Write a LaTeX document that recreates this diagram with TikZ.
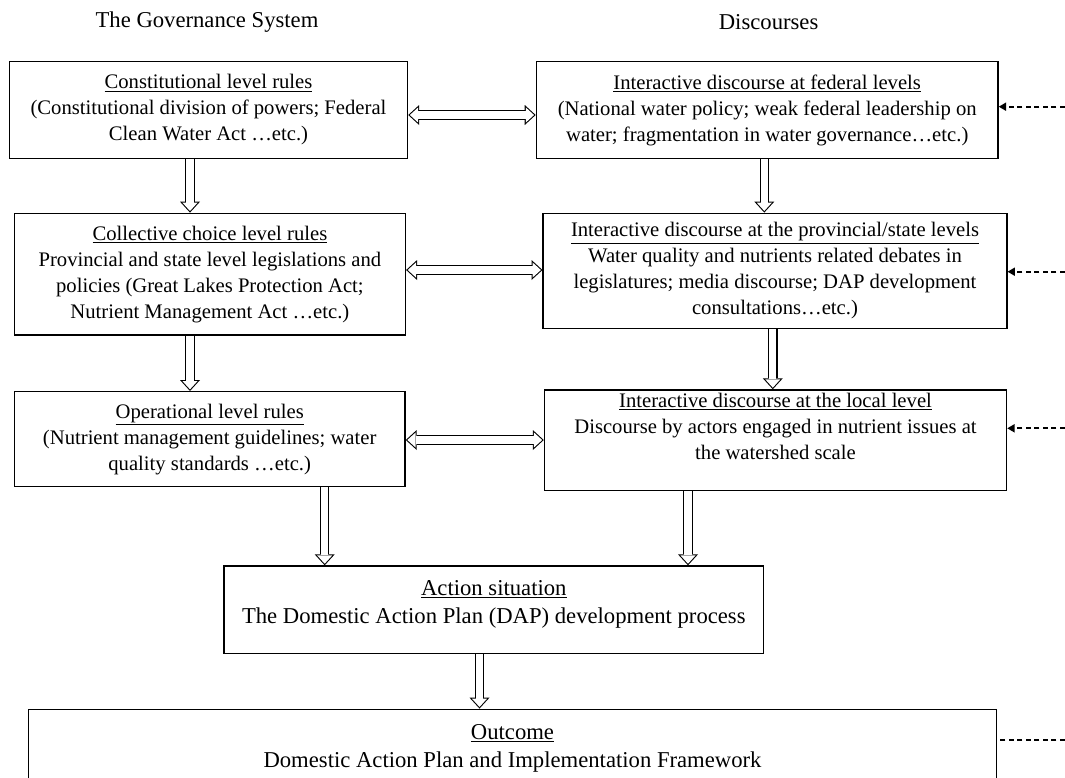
\documentclass[tikz,border=0pt]{standalone}
\usepackage{fontspec}
\setmainfont{Liberation Serif}
\usetikzlibrary{arrows.meta}

\begin{document}
\begin{tikzpicture}[x=0.75pt, y=-0.75pt,
	box/.style={draw, line width=1.1pt, align=center, inner sep=0pt, font=\fontsize{15.5}{19.5}\selectfont},
	bigbox/.style={box, font=\fontsize{17}{21.2}\selectfont},
	head/.style={font=\fontsize{17}{21.2}\selectfont},
	hollow/.style={draw=white, line width=5.5pt, -{Triangle[length=6.2pt,width=11.3pt,line width=0pt]}, shorten >=1.2pt,
		preaction={draw=black, line width=7.1pt, -{Triangle[length=8.2pt,width=15pt,line width=0pt]}, shorten >=0pt}},
	hollowboth/.style={draw=white, line width=5.5pt, {Triangle[length=6.2pt,width=11.3pt,line width=0pt]}-{Triangle[length=6.2pt,width=11.3pt,line width=0pt]}, shorten <=1.2pt, shorten >=1.2pt,
		preaction={draw=black, line width=7.1pt, {Triangle[length=8.2pt,width=15pt,line width=0pt]}-{Triangle[length=8.2pt,width=15pt,line width=0pt]}, shorten <=0pt, shorten >=0pt}},
	feed/.style={line width=1.3pt, dash pattern=on 3.8pt off 2.6pt, -{Triangle[length=5.5pt,width=6pt]}}]
\useasboundingbox (0,0) rectangle (1065,778);
\node[head] (gov) at (207,21.7) {The Governance System};
\node[head] (disc) at (768.6,21.7) {Discourses};
% governance system
\node[box, minimum width=298.5pt, minimum height=72.45pt] (cons) at (208.5,110) {\underline{Constitutional level rules}\\(Constitutional division of powers; Federal\\Clean Water Act …etc.)};
\node[box, minimum width=293.25pt, minimum height=91.3pt] (coll) at (209.9,274.2) {\underline{Collective choice level rules}\\Provincial and state level legislations and\\policies (Great Lakes Protection Act;\\Nutrient Management Act …etc.)};
\node[box, minimum width=293pt, minimum height=71.25pt] (oper) at (209.7,439.2) {\underline{Operational level rules}\\(Nutrient management guidelines; water\\quality standards …etc.)};
% discourses
\node[box, minimum width=346.2pt, minimum height=72.45pt] (fed) at (767.2,110) {\underline{Interactive discourse at federal levels}\\(National water policy; weak federal leadership on\\water; fragmentation in water governance…etc.)};
\node[box, minimum width=347.7pt, minimum height=86.25pt] (prov) at (775,270.8) {\underline{Interactive discourse at the provincial/state levels}\\Water quality and nutrients related debates in\\legislatures; media discourse; DAP development\\consultations…etc.)};
\node[box, minimum width=346.5pt, minimum height=75.5pt] (local) at (775.5,440.3) {\underline{Interactive discourse at the local level}\\Discourse by actors engaged in nutrient issues at\\the watershed scale\\[2pt]\mbox{}};
% action situation and outcome
\node[bigbox, minimum width=404.5pt, minimum height=65.5pt] (act) at (493.8,609.7) {\underline{Action situation}\\The Domestic Action Plan (DAP) development process\\[-10pt]\mbox{}};
\node[bigbox, minimum width=726pt, minimum height=59.1pt] (out) at (512.5,748.7) {\underline{Outcome}\\Domestic Action Plan and Implementation Framework};
% arrows
\coordinate (r1) at (0,115);
\coordinate (r2) at (0,270);
\coordinate (r3) at (0,440);
\draw[hollowboth] (r1 -| cons.east) -- (r1 -| fed.west);
\draw[hollowboth] (r2 -| coll.east) -- (r2 -| prov.west);
\draw[hollowboth] (r3 -| oper.east) -- (r3 -| local.west);
\coordinate (k1) at (190,0);
\coordinate (k2) at (764.3,0);
\coordinate (k3) at (772.8,0);
\coordinate (k4) at (324.7,0);
\coordinate (k5) at (688,0);
\coordinate (k6) at (479.5,0);
\draw[hollow] (k1 |- cons.south) -- (k1 |- coll.north);
\draw[hollow] (k1 |- coll.south) -- (k1 |- oper.north);
\draw[hollow] (k2 |- fed.south) -- (k2 |- prov.north);
\draw[hollow] (k3 |- prov.south) -- (k3 |- local.north);
\draw[hollow] (k4 |- oper.south) -- (k4 |- act.north);
\draw[hollow] (k5 |- local.south) -- (k5 |- act.north);
\draw[hollow] (k6 |- act.south) -- (k6 |- out.north);
\coordinate (f1) at (1065,106.7);
\coordinate (f2) at (1065,271.7);
\coordinate (f3) at (1065,428.3);
\coordinate (f4) at (1065,740);
\draw[feed] (f1) -- (f1 -| fed.east);
\draw[feed] (f2) -- (f2 -| prov.east);
\draw[feed] (f3) -- (f3 -| local.east);
\draw[feed, -] (f4) -- (f4 -| out.east);
\end{tikzpicture}
\end{document}
